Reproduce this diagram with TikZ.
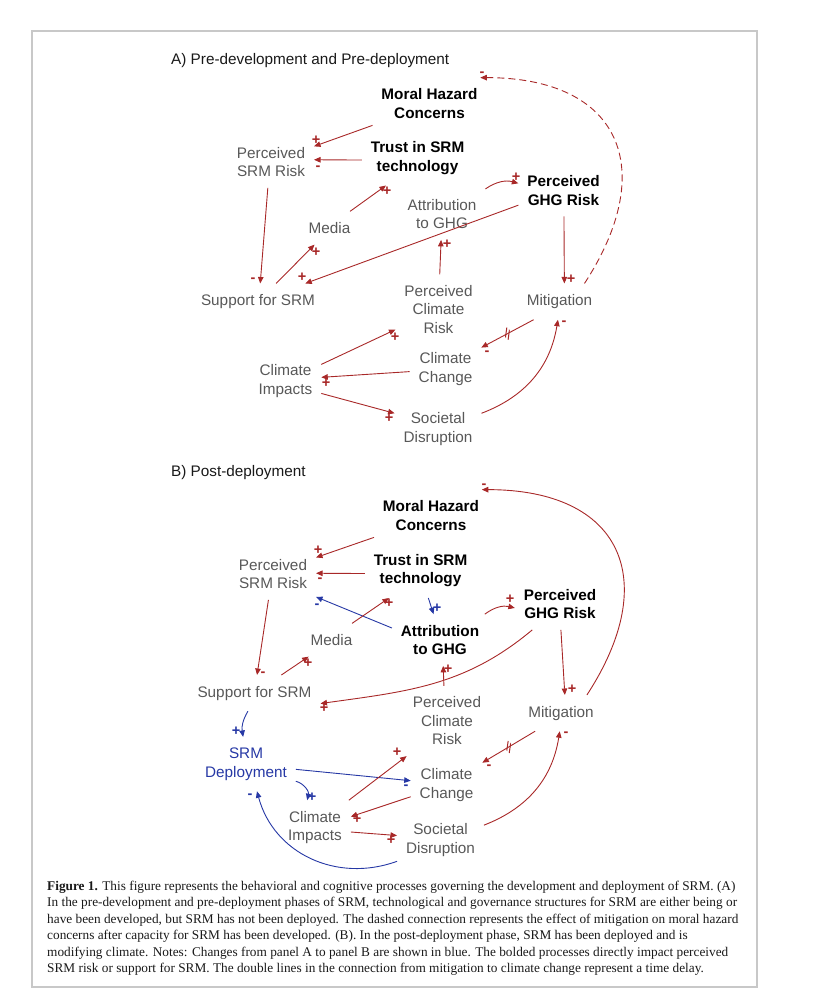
\documentclass[tikz,border=0pt]{standalone}
\usepackage{fontspec}
\setmainfont{Liberation Serif}
\setsansfont{Liberation Sans}
\usepackage{tikz}
\usetikzlibrary{arrows.meta}

\definecolor{vargray}{RGB}{88,88,88}
\definecolor{linkred}{RGB}{168,40,40}
\definecolor{linkblue}{RGB}{38,56,165}
\definecolor{framegray}{RGB}{200,200,200}

\begin{document}
\begin{tikzpicture}[x=1pt,y=1pt]
        \tikzset{var/.style = {align=center, text=vargray, inner sep=2pt, outer xsep=7pt, outer ysep=9pt, font=\sffamily\fontsize{15.3}{18.5}\selectfont}}
        \tikzset{boldvar/.style = {var, text=black, font=\sffamily\bfseries\fontsize{15.3}{18.5}\selectfont}}
        \tikzset{bluevar/.style = {var, text=linkblue}}
        \tikzset{edge/.style = {->, > = {Triangle[length=6.5pt, width=5.5pt]}, draw=linkred, line width=0.9pt}}
        \tikzset{bedge/.style = {edge, draw=linkblue}}
        \tikzset{pol/.style = {inner sep=0pt, text=linkred, font=\sffamily\bfseries\fontsize{14.5}{14.5}\selectfont}}
        \tikzset{bpol/.style = {pol, text=linkblue}}
        \tikzset{lagmark/.style = {sloped, minimum width=7pt, minimum height=16pt, inner sep=0pt,
            path picture={\draw[-, linkred, line width=1pt]
              ([xshift=-1.8pt, yshift=-2pt]path picture bounding box.north) -- ([xshift=-1.8pt, yshift=2pt]path picture bounding box.south)
              ([xshift=1.8pt, yshift=-2pt]path picture bounding box.north) -- ([xshift=1.8pt, yshift=2pt]path picture bounding box.south);}}}
        \tikzset{paneltitle/.style = {anchor=base west, inner sep=0pt, text=black!90, font=\sffamily\fontsize{15.3}{18.5}\selectfont}}
        \tikzset{caption/.style = {anchor=north west, align=left, inner sep=0pt, text=black!90, font=\fontsize{13.3}{16.4}\selectfont}}
        \useasboundingbox (0,0) rectangle (815,-1000);
        \draw[framegray, line width=1.2pt] (32,-31) rectangle (757,-987);

        % panel A: vertices
        \node[paneltitle] (titleA) at (171,-65) {A) Pre-development and Pre-deployment};
        \node[boldvar] (mhcA) at (429.5,-103.5) {Moral Hazard\\Concerns};
        \node[var] (psrA) at (271,-162) {Perceived\\SRM Risk};
        \node[boldvar] (trustA) at (417.5,-158.1) {Trust in SRM\\technology};
        \node[boldvar] (ghgA) at (563.5,-190.5) {Perceived\\GHG Risk};
        \node[var] (attA) at (442,-214) {Attribution\\to GHG};
        \node[var] (mediaA) at (329.5,-228) {Media};
        \node[var] (supA) at (258,-301.6) {Support for SRM};
        \node[var] (pcrA) at (438.5,-309.5) {Perceived\\Climate\\Risk};
        \node[var] (mitA) at (559.5,-301.6) {Mitigation};
        \node[var] (ccA) at (445.5,-369.1) {Climate\\Change};
        \node[var] (ciA) at (285.5,-381.1) {Climate\\Impacts};
        \node[var] (sdA) at (438,-429.1) {Societal\\Disruption};

        % panel A: edges
        \draw[edge] (mhcA.201) -- (psrA.20);
        \draw[edge] (trustA.182) -- (psrA.3);
        \draw[edge] (psrA.263) -- (supA.83);
        \draw[edge] (supA.45) -- (mediaA.228);
        \draw[edge] (mediaA.39) -- (trustA.221);
        \draw[edge] (ghgA.198) -- (supA.21);
        \draw[edge] (attA.30) to[bend left=25] (ghgA.171);
        \draw[edge] (pcrA.88) -- (attA.268);
        \draw[edge] (ghgA.271) -- (mitA.75);
        \draw[edge, dash pattern=on 7pt off 4pt] (mitA.36) .. controls +(75,115) and +(140,0) .. (mhcA.27);
        \draw[edge] (mitA.215) -- node[lagmark] {} (ccA.31);
        \draw[edge] (ciA.25) -- (pcrA.205);
        \draw[edge] (ccA.184) -- (ciA.6);
        \draw[edge] (ciA.341) -- (sdA.160);
        \draw[edge] (sdA.20) to[bend right=30] (mitA.265);

        % panel A: polarities
        \node[pol] (a1) at (316,-140) {+};
        \node[pol] (a2) at (318,-168) {-};
        \node[pol] (a3) at (253,-280) {-};
        \node[pol] (a4) at (316,-252) {+};
        \node[pol] (a5) at (387,-191) {+};
        \node[pol] (a6) at (302,-277) {+};
        \node[pol] (a7) at (516,-177) {+};
        \node[pol] (a8) at (447,-244) {+};
        \node[pol] (a9) at (571,-279) {+};
        \node[pol] (a10) at (482,-74) {-};
        \node[pol] (a11) at (487,-353) {-};
        \node[pol] (a12) at (395,-337) {+};
        \node[pol] (a13) at (326,-383) {+};
        \node[pol] (a14) at (389,-418) {+};
        \node[pol] (a15) at (564,-323) {-};

        % panel B: vertices
        \node[paneltitle] (titleB) at (171,-476) {B) Post-deployment};
        \node[boldvar] (mhcB) at (431,-515.5) {Moral Hazard\\Concerns};
        \node[var] (psrB) at (273,-574) {Perceived\\SRM Risk};
        \node[boldvar] (trustB) at (420.5,-570.6) {Trust in SRM\\technology};
        \node[boldvar] (ghgB) at (560,-604) {Perceived\\GHG Risk};
        \node[boldvar] (attB) at (440,-640) {Attribution\\to GHG};
        \node[var] (mediaB) at (331.5,-640) {Media};
        \node[var] (supB) at (254.5,-693.1) {Support for SRM};
        \node[var] (pcrB) at (447,-721) {Perceived\\Climate\\Risk};
        \node[var] (mitB) at (561,-713.1) {Mitigation};
        \node[bluevar] (depB) at (246,-764.1) {SRM\\Deployment};
        \node[var] (ccB) at (446.5,-785.1) {Climate\\Change};
        \node[var] (ciB) at (315,-827.6) {Climate\\Impacts};
        \node[var] (sdB) at (440.5,-840.1) {Societal\\Disruption};

        % panel B: edges
        \draw[edge] (mhcB.201) -- (psrB.21);
        \draw[edge] (trustB.183) -- (psrB.1);
        \draw[bedge] (attB.166) -- (psrB.332);
        \draw[bedge] (trustB.286) -- (attB.104);
        \draw[edge] (mediaB.39) -- (trustB.221);
        \draw[edge] (attB.30) to[bend left=25] (ghgB.185);
        \draw[edge] (psrB.260) -- (supB.82);
        \draw[edge] (supB.34) -- (mediaB.216);
        \draw[edge] (ghgB.223) to[out=220, in=8] (supB.351);
        \draw[edge] (pcrB.95) -- (attB.277);
        \draw[edge] (ghgB.272) -- (mitB.78);
        \draw[edge] (mitB.35) .. controls +(75,115) and +(140,0) .. (mhcB.27);
        \draw[bedge] (supB.250) to[bend right=20] (depB.96);
        \draw[bedge] (depB.354) -- (ccB.173);
        \draw[bedge] (depB.341) to[bend left=45] (ciB.106);
        \draw[bedge] (sdB.206) to[out=200, in=285, looseness=1.05] (depB.292);
        \draw[edge] (ciB.39) -- (pcrB.221);
        \draw[edge] (ccB.198) -- (ciB.17);
        \draw[edge] (ciB.353) -- (sdB.174);
        \draw[edge] (sdB.19) to[bend right=30] (mitB.266);
        \draw[edge] (mitB.215) -- node[lagmark] {} (ccB.32);

        % panel B: polarities
        \node[pol] (b1) at (318,-550) {+};
        \node[pol] (b2) at (320,-580) {-};
        \node[bpol] (b3) at (317,-606) {-};
        \node[bpol] (b4) at (437,-608) {+};
        \node[pol] (b5) at (389,-603) {+};
        \node[pol] (b6) at (510,-599) {+};
        \node[pol] (b7) at (263,-674) {-};
        \node[pol] (b8) at (308,-663) {+};
        \node[pol] (b9) at (324,-708) {+};
        \node[pol] (b10) at (448,-669) {+};
        \node[pol] (b11) at (572,-689) {+};
        \node[pol] (b12) at (484,-486) {-};
        \node[bpol] (b13) at (236,-731) {+};
        \node[bpol] (b14) at (406,-787) {-};
        \node[bpol] (b15) at (312,-797) {+};
        \node[bpol] (b16) at (250,-796) {-};
        \node[pol] (b17) at (397,-752) {+};
        \node[pol] (b18) at (357,-819) {+};
        \node[pol] (b19) at (391,-840) {+};
        \node[pol] (b20) at (566,-734) {-};
        \node[pol] (b21) at (489,-767) {-};

        % caption
        \node[caption] (cap) at (47,-881) {\textbf{Figure 1.} This figure represents the behavioral and cognitive processes governing the development and deployment of SRM. (A)\\
          In the pre-development and pre-deployment phases of SRM, technological and governance structures for SRM are either being or\\
          have been developed, but SRM has not been deployed. The dashed connection represents the effect of mitigation on moral hazard\\
          concerns after capacity for SRM has been developed. (B). In the post-deployment phase, SRM has been deployed and is\\
          modifying climate. Notes: Changes from panel A to panel B are shown in blue. The bolded processes directly impact perceived\\
          SRM risk or support for SRM. The double lines in the connection from mitigation to climate change represent a time delay.};
\end{tikzpicture}
\end{document}
